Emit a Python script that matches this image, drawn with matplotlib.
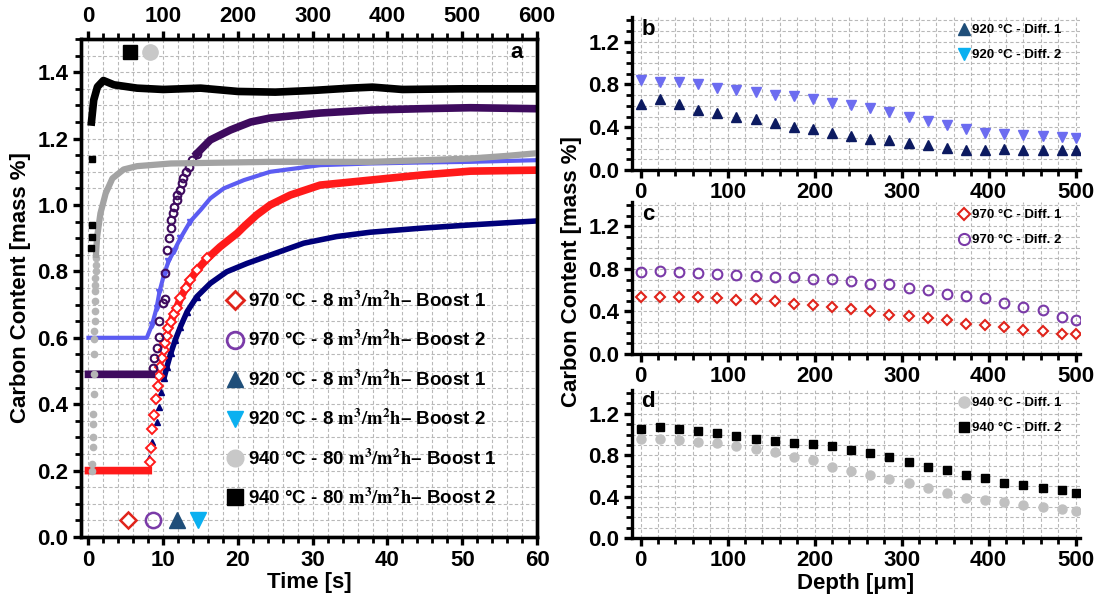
import numpy as np
import matplotlib
matplotlib.use("Agg")
import matplotlib.pyplot as plt
from matplotlib.lines import Line2D
from matplotlib.ticker import MultipleLocator

plt.rcParams['font.family'] = ['Liberation Sans', 'DejaVu Sans']
plt.rcParams['font.weight'] = 'bold'
plt.rcParams['axes.labelweight'] = 'bold'
plt.rcParams['mathtext.fontset'] = 'stix'

# ---- panel a: boost curves, time [s] on the bottom axis ----
red_t = [0, 2, 4, 6, 8, 8.2, 8.4, 8.5, 8.8, 9.05, 9.3, 9.45, 9.6, 9.85, 10.1, 10.3, 10.5, 10.7,
         11.05, 11.4, 11.8, 12.3, 13.0, 13.6, 14.5, 15.9, 17.6, 19.9, 20.8, 22.5, 24.3, 27.0,
         31.0, 37.7, 44.4, 51.1, 60]
red_c = [0.2, 0.2, 0.2, 0.2, 0.2, 0.227, 0.268, 0.324, 0.367, 0.415, 0.455, 0.486, 0.513, 0.538,
         0.563, 0.583, 0.605, 0.629, 0.649, 0.671, 0.689, 0.719, 0.749, 0.774, 0.804, 0.839,
         0.874, 0.915, 0.935, 0.97, 1.0, 1.03, 1.06, 1.075, 1.09, 1.102, 1.105]

navy_t = [0, 4, 8, 8.1, 8.5, 9.1, 9.4, 9.7, 10.1, 10.5, 11.0, 11.6, 12.3, 13.2, 14.5, 16.3,
          18.5, 21.2, 24.3, 28.8, 33.2, 37.7, 44.4, 51.1, 60]
navy_c = [0.2, 0.2, 0.2, 0.237, 0.287, 0.347, 0.392, 0.438, 0.478, 0.513, 0.553, 0.593, 0.633,
          0.679, 0.724, 0.764, 0.799, 0.824, 0.849, 0.885, 0.905, 0.918, 0.93, 0.94, 0.952]

lblue_t = [0, 4, 7.8, 8.5, 9.1, 9.5, 10.1, 10.7, 11.4, 12.3, 13.6, 15.0, 16.3, 18.1, 20.8,
           24.3, 31.0, 37.7, 44.4, 51.1, 60]
lblue_c = [0.6, 0.6, 0.6, 0.639, 0.689, 0.739, 0.79, 0.83, 0.86, 0.9, 0.95, 0.985, 1.02, 1.05,
           1.075, 1.1, 1.12, 1.125, 1.128, 1.13, 1.135]

purp_t = [0, 4, 8.4, 8.6, 8.8, 9.1, 9.4, 9.5, 9.98, 10.2, 10.3, 10.5, 10.8, 11.0, 11.1, 11.3,
          11.5, 11.8, 11.9, 12.2, 12.5, 12.7, 13.1, 13.4, 13.9, 14.5, 16.3, 19.0, 21.7, 24.3,
          31.0, 37.7, 44.4, 51.1, 60]
purp_c = [0.49, 0.49, 0.49, 0.51, 0.538, 0.569, 0.603, 0.651, 0.706, 0.717, 0.794, 0.864, 0.9,
          0.93, 0.955, 0.975, 0.995, 1.015, 1.03, 1.045, 1.065, 1.08, 1.10, 1.115, 1.135, 1.155,
          1.196, 1.226, 1.25, 1.262, 1.277, 1.286, 1.29, 1.293, 1.29]

# ---- panel a: 940 °C curves, time [s] on the top axis ----
grey_t = [5.0, 5.3, 5.6, 5.9, 6.2, 6.5, 6.8, 7.1, 7.4, 7.7, 8.0, 8.2, 8.4, 8.6, 8.8, 9.0, 9.2,
          9.4, 9.6, 9.8, 10, 11.6, 16, 23, 32, 47, 65, 110, 243, 377, 450, 511, 560, 595]
grey_c = [0.20, 0.22, 0.27, 0.30, 0.34, 0.37, 0.43, 0.49, 0.55, 0.595, 0.62, 0.65, 0.68, 0.71,
          0.74, 0.76, 0.78, 0.80, 0.82, 0.84, 0.85, 0.905, 0.975, 1.035, 1.08, 1.107, 1.117,
          1.125, 1.13, 1.13, 1.135, 1.14, 1.148, 1.155]

black_t = [4, 7, 12, 20, 34, 65, 100, 150, 200, 250, 300, 350, 380, 420, 500, 600]
black_c = [1.25, 1.316, 1.356, 1.375, 1.362, 1.352, 1.348, 1.352, 1.342, 1.34, 1.345, 1.352,
           1.355, 1.348, 1.35, 1.35]
black_sq_t = [3.5, 5, 5, 5]
black_sq_c = [0.87, 0.905, 0.94, 1.14]

labels_a = [r"970 °C - 8 $\mathbf{m^3/m^2h}$– Boost 1",
            r"970 °C - 8 $\mathbf{m^3/m^2h}$– Boost 2",
            r"920 °C - 8 $\mathbf{m^3/m^2h}$– Boost 1",
            r"920 °C - 8 $\mathbf{m^3/m^2h}$– Boost 2",
            r"940 °C - 80 $\mathbf{m^3/m^2h}$– Boost 1",
            r"940 °C - 80 $\mathbf{m^3/m^2h}$– Boost 2"]

# ---- panels b-d: depth profiles ----
depth = [0, 22, 44, 66, 88, 110, 132, 154, 176, 198, 220, 242, 264, 286, 308, 330, 352, 374,
         396, 418, 440, 462, 484, 500]
b_diff1 = [0.62, 0.66, 0.62, 0.56, 0.53, 0.50, 0.48, 0.44, 0.40, 0.38, 0.35, 0.32, 0.29, 0.28,
           0.25, 0.23, 0.21, 0.19, 0.19, 0.20, 0.19, 0.19, 0.19, 0.19]
b_diff2 = [0.84, 0.82, 0.82, 0.80, 0.77, 0.75, 0.73, 0.70, 0.69, 0.66, 0.63, 0.61, 0.58, 0.54,
           0.50, 0.46, 0.42, 0.38, 0.35, 0.34, 0.33, 0.32, 0.31, 0.30]
c_diff1 = [0.54, 0.54, 0.54, 0.54, 0.53, 0.51, 0.52, 0.50, 0.47, 0.46, 0.44, 0.42, 0.40, 0.37,
           0.36, 0.34, 0.32, 0.28, 0.27, 0.25, 0.23, 0.22, 0.19, 0.19]
c_diff2 = [0.77, 0.78, 0.77, 0.76, 0.75, 0.74, 0.73, 0.72, 0.72, 0.71, 0.71, 0.69, 0.66, 0.66,
           0.62, 0.60, 0.56, 0.55, 0.53, 0.48, 0.44, 0.41, 0.35, 0.32]
d_diff1 = [0.96, 0.96, 0.95, 0.93, 0.92, 0.89, 0.86, 0.83, 0.78, 0.75, 0.69, 0.65, 0.61, 0.57,
           0.53, 0.48, 0.43, 0.39, 0.37, 0.35, 0.32, 0.30, 0.28, 0.26]
d_diff2 = [1.05, 1.07, 1.05, 1.03, 1.01, 0.99, 0.96, 0.94, 0.92, 0.91, 0.89, 0.85, 0.82, 0.78,
           0.73, 0.69, 0.66, 0.61, 0.58, 0.53, 0.51, 0.48, 0.46, 0.43]

W, H = 1097, 601
GRID = dict(ls=(0, (3, 2)), color='#b8b8b8', lw=0.8)
FS = 16


def split(t, c, lo, hi):
    # line part outside (lo, hi), marker part inside
    t = np.asarray(t, dtype=float)
    c = np.asarray(c, dtype=float)
    inside = (t > lo) & (t < hi)
    return np.where(inside, np.nan, c), np.where(inside, c, np.nan)


def style(ax):
    for s in ax.spines.values():
        s.set_linewidth(2.4)
    ax.tick_params(which='major', direction='out', length=6, width=2.4, labelsize=FS, pad=3)
    ax.tick_params(which='minor', direction='out', length=4, width=2.0)
    ax.set_axisbelow(True)


fig = plt.figure(figsize=(W / 100, H / 100), dpi=100)

# ================= panel a =================
ax = fig.add_axes([81 / W, (H - 537) / H, 456 / W, 498 / H])
style(ax)
ax.set_xlim(-1, 60)
ax.set_ylim(0, 1.5)
ax.xaxis.set_major_locator(MultipleLocator(10))
ax.xaxis.set_minor_locator(MultipleLocator(2))
ax.yaxis.set_major_locator(MultipleLocator(0.2))
ax.yaxis.set_minor_locator(MultipleLocator(0.05))
ax.yaxis.set_major_formatter(lambda v, p: f"{v:.1f}")
ax.grid(which='both', **GRID)
ax.tick_params(axis='y', which='both', right=False)

line, mk = split(navy_t, navy_c, 8, 10.0)
ax.plot(navy_t, line, color='#00007a', lw=4)
_, mk = split(navy_t, navy_c, 8, 16)
ax.plot(navy_t, mk, ls='none', marker='^', ms=4.5, color='#00007a')

ax.plot(lblue_t, lblue_c, color='#5c5cf2', lw=3)
_, mk = split(lblue_t, lblue_c, 7.8, 14)
ax.plot(lblue_t, mk, ls='none', marker='v', ms=4.5, color='#5c5cf2')

line, mk = split(red_t, red_c, 8, 10.6)
ax.plot(red_t, line, color='#ff1a1a', lw=5.5)
_, mk = split(red_t, red_c, 8, 16)
ax.plot(red_t, mk, ls='none', marker='D', ms=5, mfc='white', mec='#ff1a1a', mew=1.4)

line, mk = split(purp_t, purp_c, 8.4, 14.5)
ax.plot(purp_t, line, color='#3e0b5e', lw=5.5)
_, mk = split(purp_t, purp_c, 8.4, 15)
ax.plot(purp_t, mk, ls='none', marker='o', ms=5.5, mfc='none', mec='#3e0b5e', mew=1.5)

# bottom marker row (bottom-axis series)
ax.plot([5.3], [0.05], ls='none', marker='D', ms=8, mfc='white', mec='#e0241b', mew=1.8)
ax.plot([8.6], [0.05], ls='none', marker='o', ms=11, mfc='none', mec='#7a3aa8', mew=1.8)
ax.plot([11.9], [0.05], ls='none', marker='^', ms=11, color='#1f4e79')
ax.plot([14.6], [0.05], ls='none', marker='v', ms=11, color='#0ab0f0')

ax.set_xlabel('Time [s]', fontsize=FS, labelpad=1)
ax.set_ylabel('Carbon Content [mass %]', fontsize=FS, labelpad=5)
ax.text(0.956, 0.972, 'a', transform=ax.transAxes, fontsize=FS, ha='center', va='center')

handles = [
    Line2D([], [], ls='none', marker='D', ms=9, mfc='white', mec='#e0241b', mew=2),
    Line2D([], [], ls='none', marker='o', ms=12, mfc='none', mec='#7a3aa8', mew=2),
    Line2D([], [], ls='none', marker='^', ms=12, color='#1f4e79'),
    Line2D([], [], ls='none', marker='v', ms=12, color='#0ab0f0'),
    Line2D([], [], ls='none', marker='o', ms=12, color='#c8c8c8'),
    Line2D([], [], ls='none', marker='s', ms=11, color='black'),
]
leg = ax.legend(handles, labels_a, loc='upper left', bbox_to_anchor=(0.3, 0.51),
                frameon=False, fontsize=13.5, handlelength=1.0, handletextpad=0.2,
                labelspacing=1.02, borderaxespad=0)

# top axis (x10) for the 940 °C curves
ax2 = ax.twiny()
ax2.set_xlim(-10, 600)
ax2.set_ylim(0, 1.5)
style(ax2)
ax2.xaxis.set_major_locator(MultipleLocator(100))
ax2.xaxis.set_minor_locator(MultipleLocator(20))
ax2.tick_params(axis='x', which='both', top=True, bottom=False)

gline, gdots = split(grey_t, grey_c, 0, 9.9)
ax2.plot(grey_t, gdots, ls='none', marker='o', ms=4.5, color='#b5b5b5')
ax2.plot(grey_t, gline, color='#a3a3a3', lw=4.5)
ax2.plot(black_sq_t, black_sq_c, ls='none', marker='s', ms=4.5, color='black')
ax2.plot(black_t, black_c, color='black', lw=5.5)
ax2.plot([56], [1.46], ls='none', marker='s', ms=10, color='black')
ax2.plot([82], [1.46], ls='none', marker='o', ms=11, color='#c8c8c8')

# ================= panels b-d =================
right_x, right_w = 632 / W, 448 / W
panels = [
    (17, 170, 'b', depth, b_diff1, b_diff2,
     dict(marker='^', ms=6.5, color='#0c1a60', ls='none'),
     dict(marker='v', ms=6.5, color='#6c6cf0', ls='none'),
     dict(marker='^', ms=8, color='#1f4e79', ls='none'),
     dict(marker='v', ms=8, color='#0ab0f0', ls='none'),
     ['920 °C - Diff. 1', '920 °C - Diff. 2']),
    (202, 354, 'c', depth, c_diff1, c_diff2,
     dict(marker='D', ms=5.5, mfc='white', mec='#e0241b', mew=1.5, ls='none'),
     dict(marker='o', ms=7, mfc='none', mec='#7a3aa8', mew=1.5, ls='none'),
     dict(marker='D', ms=6.5, mfc='white', mec='#e0241b', mew=1.5, ls='none'),
     dict(marker='o', ms=8, mfc='none', mec='#7a3aa8', mew=1.5, ls='none'),
     ['970 °C - Diff. 1', '970 °C - Diff. 2']),
    (390, 538, 'd', depth, d_diff1, d_diff2,
     dict(marker='o', ms=6.5, color='#c0c0c0', ls='none'),
     dict(marker='s', ms=6, color='black', ls='none'),
     dict(marker='o', ms=8, color='#c8c8c8', ls='none'),
     dict(marker='s', ms=7.5, color='black', ls='none'),
     ['940 °C - Diff. 1', '940 °C - Diff. 2']),
]

for top, bot, lab, x, y1, y2, st1, st2, lg1, lg2, names in panels:
    axr = fig.add_axes([right_x, (H - bot) / H, right_w, (bot - top) / H])
    style(axr)
    axr.spines['top'].set_visible(False)
    axr.spines['right'].set_visible(False)
    axr.set_xlim(-10, 505)
    axr.set_ylim(0, 1.43)
    axr.xaxis.set_major_locator(MultipleLocator(100))
    axr.xaxis.set_minor_locator(MultipleLocator(20))
    axr.yaxis.set_major_locator(MultipleLocator(0.4))
    axr.yaxis.set_minor_locator(MultipleLocator(0.1))
    axr.yaxis.set_major_formatter(lambda v, p: f"{v:.1f}")
    axr.grid(which='both', **GRID)
    axr.plot(x, y1, **st1)
    axr.plot(x, y2, **st2)
    axr.text(0.036, 0.92, lab, transform=axr.transAxes, fontsize=FS, ha='center', va='center')
    axr.legend([Line2D([], [], **lg1), Line2D([], [], **lg2)], names, loc='upper right',
               bbox_to_anchor=(0.975, 1.0), frameon=False, fontsize=9.5, handlelength=0.8,
               handletextpad=0.2, labelspacing=0.95, borderaxespad=0.15)
    if lab == 'd':
        axr.set_xlabel('Depth [μm]', fontsize=FS, labelpad=1)

fig.text(572 / W, 1 - 272 / H, 'Carbon Content [mass %]', rotation=90, fontsize=FS,
         ha='center', va='center')

fig.savefig('out.png', dpi=100)
